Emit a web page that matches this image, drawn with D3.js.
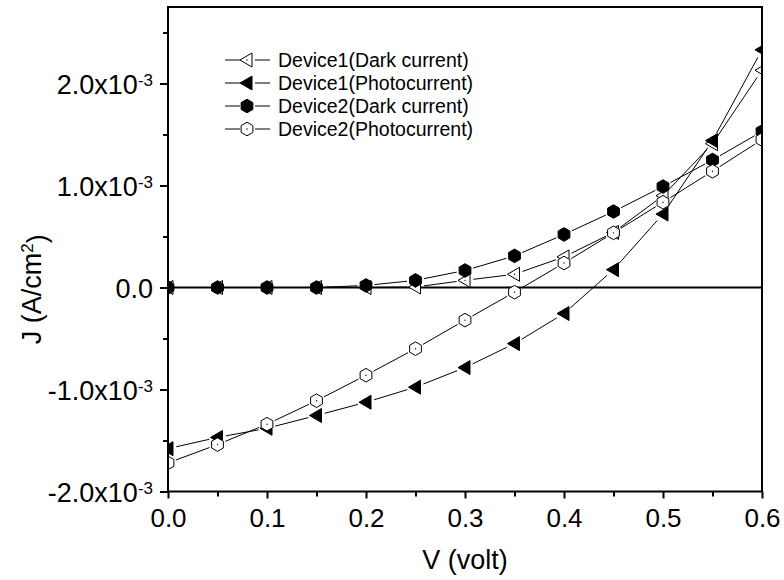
<!DOCTYPE html>
<html>
<head>
<meta charset="utf-8">
<script src="https://cdn.jsdelivr.net/npm/d3@7"></script>
<style>
  body { margin: 0; background: #fff; }
  svg { display: block; font-family: "Liberation Sans", Arial, sans-serif; }
</style>
</head>
<body>
<svg id="chart"></svg>
<script>
const width = 784;
const height = 580;

// voltage steps (V)
const volts = [0, 0.05, 0.1, 0.15, 0.2, 0.25, 0.3, 0.35, 0.4, 0.45, 0.5, 0.55, 0.6];

// current density, A/cm^2
const dev1Dark  = [0, 0, 0, 0, 0, 0.005e-3, 0.07e-3, 0.13e-3, 0.30e-3, 0.54e-3, 0.90e-3, 1.41e-3, 2.13e-3];
const dev1Photo = [-1.58e-3, -1.47e-3, -1.38e-3, -1.255e-3, -1.125e-3, -0.977e-3, -0.785e-3, -0.55e-3, -0.255e-3, 0.175e-3, 0.72e-3, 1.44e-3, 2.33e-3];
const dev2Dark  = [0, 0, 0, 0, 0.02e-3, 0.07e-3, 0.167e-3, 0.31e-3, 0.52e-3, 0.745e-3, 0.99e-3, 1.25e-3, 1.53e-3];
const dev2Photo = [-1.72e-3, -1.54e-3, -1.34e-3, -1.11e-3, -0.86e-3, -0.60e-3, -0.32e-3, -0.046e-3, 0.24e-3, 0.536e-3, 0.836e-3, 1.14e-3, 1.45e-3];

const seriesNames = ["Device1(Dark current)", "Device1(Photocurrent)", "Device2(Dark current)", "Device2(Photocurrent)"];

const xTicks = [0, 0.1, 0.2, 0.3, 0.4, 0.5, 0.6];
const xMinor = [0.05, 0.15, 0.25, 0.35, 0.45, 0.55];
const yTicks = [-2e-3, -1e-3, 0, 1e-3, 2e-3];
const yMinor = [-1.5e-3, -0.5e-3, 0.5e-3, 1.5e-3, 2.5e-3];
const yTickMant = ["-2.0x10", "-1.0x10", "0.0", "1.0x10", "2.0x10"];
const yTickExp  = ["-3", "-3", "", "-3", "-3"];

const plotLeft = 168, plotRight = 762, plotTop = 7, plotBottom = 491.5;

const x = d3.scaleLinear().domain([0, 0.6]).range([plotLeft, plotRight]);
const y = d3.scaleLinear().domain([-2e-3, 2.75e-3]).range([plotBottom, plotTop]);

const svg = d3.select("#chart").attr("width", width).attr("height", height);

svg.append("defs").append("clipPath").attr("id", "plotClip")
  .append("rect")
  .attr("x", plotLeft).attr("y", plotTop)
  .attr("width", plotRight - plotLeft).attr("height", plotBottom - plotTop);

// marker shapes
function hexPath(r) {
  const pts = d3.range(6).map(i => {
    const a = (Math.PI / 3) * i - Math.PI / 2;
    return [r * Math.cos(a), r * Math.sin(a)];
  });
  return "M" + pts.map(p => p.join(",")).join("L") + "Z";
}
const triPath = "M-7,0L5,-7L5,7Z";

const markers = [
  { path: triPath, fill: "#fff", dot: true },
  { path: triPath, fill: "#000", dot: false },
  { path: hexPath(6.8), fill: "#000", dot: false },
  { path: hexPath(6.8), fill: "#fff", dot: true }
];

const allSeries = [dev1Dark, dev1Photo, dev2Dark, dev2Photo];

const plot = svg.append("g").attr("clip-path", "url(#plotClip)");

// zero line
plot.append("line")
  .attr("x1", plotLeft).attr("x2", plotRight)
  .attr("y1", y(0)).attr("y2", y(0))
  .attr("stroke", "#000").attr("stroke-width", 2);

// connecting lines, leaving a gap at each marker
const gap = 8.5;
allSeries.forEach(vals => {
  const pts = vals.map((v, i) => [x(volts[i]), y(v)]);
  for (let i = 0; i < pts.length - 1; i++) {
    const [x1, y1] = pts[i], [x2, y2] = pts[i + 1];
    const len = Math.hypot(x2 - x1, y2 - y1);
    if (len <= gap * 2) continue;
    const ux = (x2 - x1) / len, uy = (y2 - y1) / len;
    plot.append("line")
      .attr("x1", x1 + ux * gap).attr("y1", y1 + uy * gap)
      .attr("x2", x2 - ux * gap).attr("y2", y2 - uy * gap)
      .attr("stroke", "#000").attr("stroke-width", 1);
  }
});

function drawMarker(g, m, cx, cy) {
  const mg = g.append("g").attr("transform", `translate(${cx},${cy})`);
  mg.append("path").attr("d", m.path)
    .attr("fill", m.fill).attr("stroke", "#000").attr("stroke-width", 1);
  if (m.dot) mg.append("circle").attr("r", 0.7).attr("fill", "#000");
}

allSeries.forEach((vals, s) => {
  vals.forEach((v, i) => drawMarker(plot, markers[s], x(volts[i]), y(v)));
});

// frame
svg.append("rect")
  .attr("x", plotLeft).attr("y", plotTop)
  .attr("width", plotRight - plotLeft).attr("height", plotBottom - plotTop)
  .attr("fill", "none").attr("stroke", "#000").attr("stroke-width", 2);

// x axis
const xAxis = svg.append("g")
  .attr("transform", `translate(0,${plotBottom})`)
  .call(d3.axisBottom(x).tickValues(xTicks).tickFormat(d3.format(".1f")).tickSize(7).tickPadding(10));
svg.append("g")
  .attr("transform", `translate(0,${plotBottom})`)
  .call(d3.axisBottom(x).tickValues(xMinor).tickFormat("").tickSize(5));

// y axis
const yAxis = svg.append("g")
  .attr("transform", `translate(${plotLeft},0)`)
  .call(d3.axisLeft(y).tickValues(yTicks).tickFormat("").tickSize(8));
svg.append("g")
  .attr("transform", `translate(${plotLeft},0)`)
  .call(d3.axisLeft(y).tickValues(yMinor).tickFormat("").tickSize(5));

svg.selectAll(".domain").remove();
svg.selectAll(".tick line").attr("stroke", "#000").attr("stroke-width", 2);

xAxis.selectAll(".tick text")
  .attr("fill", "#000")
  .style("font-size", "26px")
  .style("font-family", "'Liberation Sans', Arial, sans-serif");

yAxis.selectAll(".tick").each(function(d, i) {
  const t = d3.select(this).append("text")
    .attr("x", -15).attr("dy", "0.36em")
    .attr("text-anchor", "end")
    .attr("fill", "#000")
    .style("font-size", "27px")
    .style("font-family", "'Liberation Sans', Arial, sans-serif");
  t.append("tspan").text(yTickMant[i]);
  if (yTickExp[i]) {
    t.append("tspan").attr("dy", "-0.45em").style("font-size", "17px").text(yTickExp[i]);
  }
});

// axis titles
svg.append("text")
  .attr("x", (plotLeft + plotRight) / 2).attr("y", 569)
  .attr("text-anchor", "middle")
  .style("font-size", "27px")
  .text("V (volt)");

const yt = svg.append("text")
  .attr("transform", `translate(41,${(plotTop + plotBottom) / 2 + 40}) rotate(-90)`)
  .attr("text-anchor", "middle")
  .style("font-size", "27px");
yt.append("tspan").text("J (A/cm");
yt.append("tspan").attr("dy", "-0.45em").style("font-size", "17px").text("2");
yt.append("tspan").attr("dy", "0.45em").text(")");

// legend
const legend = svg.append("g");
seriesNames.forEach((name, s) => {
  const cy = 60 + s * 23;
  legend.append("line").attr("x1", 225).attr("x2", 240).attr("y1", cy).attr("y2", cy)
    .attr("stroke", "#000").attr("stroke-width", 1);
  legend.append("line").attr("x1", 255).attr("x2", 270).attr("y1", cy).attr("y2", cy)
    .attr("stroke", "#000").attr("stroke-width", 1);
  drawMarker(legend, markers[s], 247, cy);
  legend.append("text")
    .attr("x", 278).attr("y", cy).attr("dy", "0.36em")
    .style("font-size", "19.5px")
    .text(name);
});
</script>
</body>
</html>
